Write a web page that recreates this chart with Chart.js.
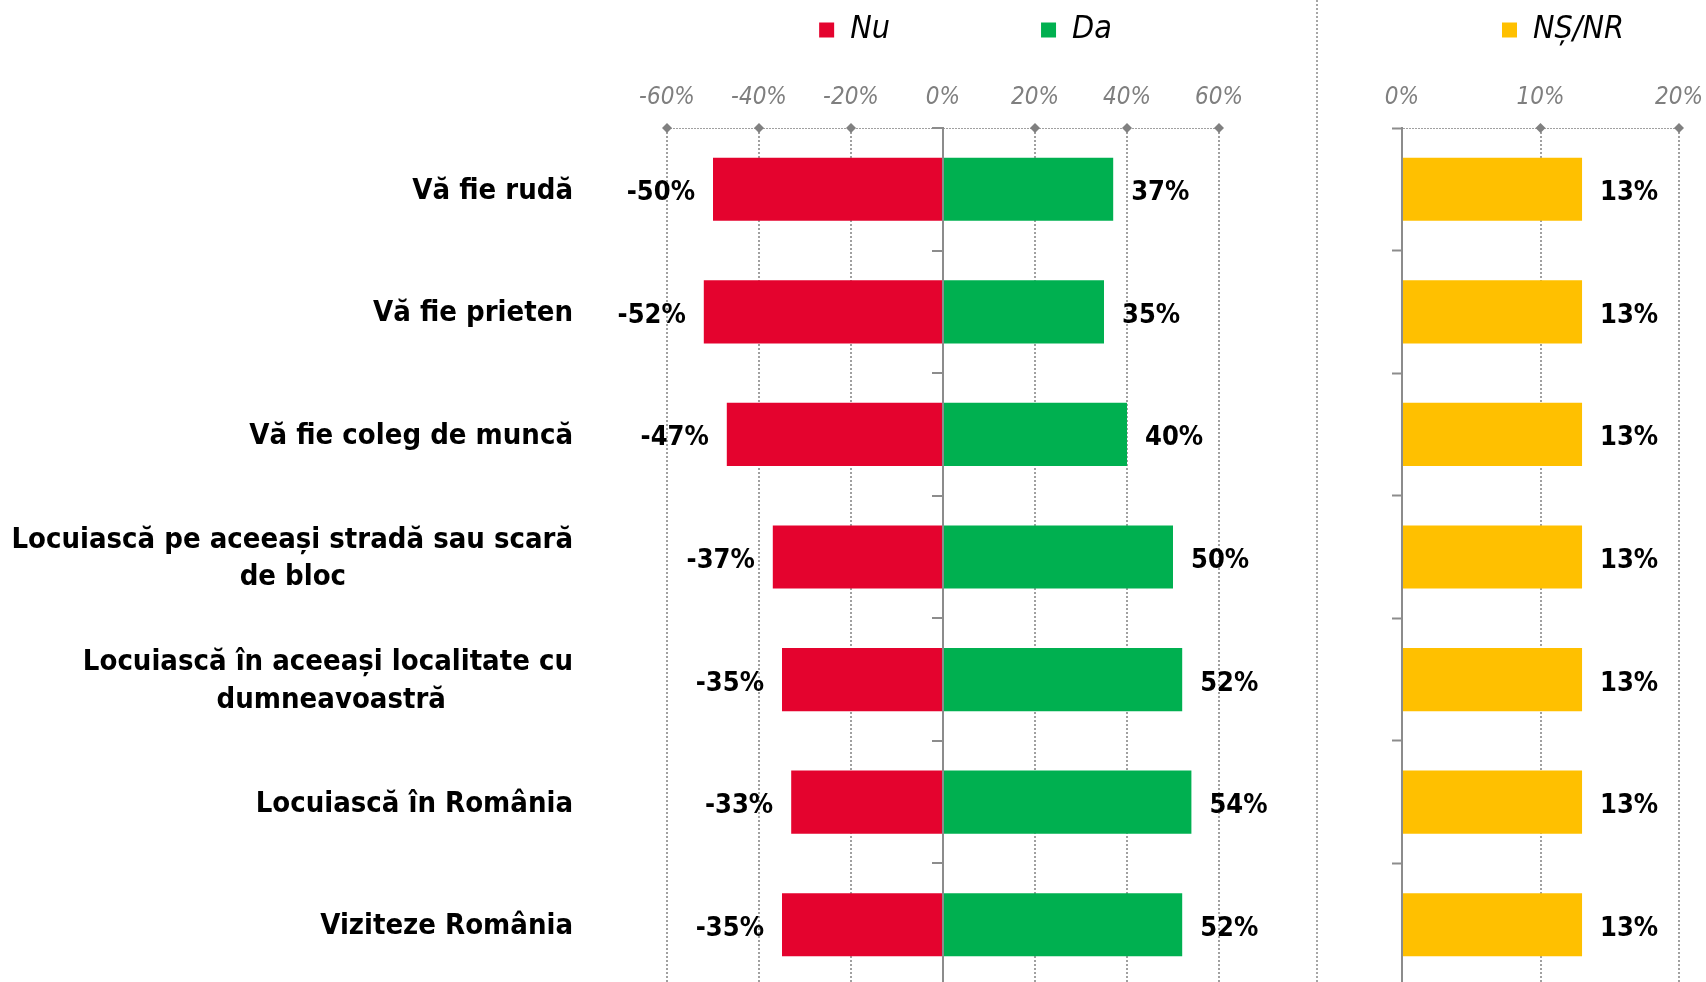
<!DOCTYPE html>
<html>
<head>
<meta charset="utf-8">
<script src="https://cdn.jsdelivr.net/npm/chart.js@4.4.1/dist/chart.umd.min.js"></script>
<style>
  html, body { margin: 0; padding: 0; background: #ffffff; overflow: hidden; width: 1706px; height: 982px; }
  #left { position: absolute; left: 0; top: 0; }
  #right { position: absolute; left: 1318px; top: 0; }
  #sep { position: absolute; left: 1316px; top: 0; width: 0; height: 982px; border-left: 2px dotted #A6A6A6; }
</style>
</head>
<body>
<canvas id="left" width="1318" height="990"></canvas>
<div id="sep"></div>
<canvas id="right" width="388" height="990"></canvas>
<script>
// ---- data ----
const categories = [
  'Vă fie rudă',
  'Vă fie prieten',
  'Vă fie coleg de muncă',
  ['Locuiască pe aceeași stradă sau scară', 'de bloc'],
  ['Locuiască în aceeași localitate cu', 'dumneavoastră'],
  'Locuiască în România',
  'Viziteze România'
];
const nuValues = [-50, -52, -47, -37, -35, -33, -35];
const daValues = [37, 35, 40, 50, 52, 54, 52];
const nsnrValues = [13, 13, 13, 13, 13, 13, 13];
const leftTicks = [-60, -40, -20, 0, 20, 40, 60];
const rightTicks = [0, 10, 20];
const seriesNames = ['Nu', 'Da', 'NȘ/NR'];

// ---- style ----
const FAM = "'DejaVu Sans Condensed', 'DejaVu Sans', sans-serif";
const RED = '#E4032E', GREEN = '#00B050', YELLOW = '#FFC000';
const GRID = '#A0A0A0', AXIS = '#8C8C8C', TICKTXT = '#7F7F7F';
const LABEL_FONT = { family: FAM, size: 29, weight: 'bold', lineHeight: 1.3 };
const VALUE_FONT = 'bold 27px ' + FAM;
const TICK_FONT = { family: FAM, size: 24, style: 'italic' };
const LEGEND_FONT = { family: FAM, size: 32, style: 'italic' };

const measureCtx = document.createElement('canvas').getContext('2d');
function centerLines(lbl) {
  if (!Array.isArray(lbl)) return lbl;
  measureCtx.font = 'bold 29px ' + FAM;
  const w0 = measureCtx.measureText(lbl[0]).width;
  const sp = measureCtx.measureText(' ').width;
  return lbl.map((ln, i) => {
    if (i === 0) return ln;
    const w = measureCtx.measureText(ln).width;
    return ln + ' '.repeat(Math.max(0, Math.round((w0 - w) / 2 / sp)));
  });
}

const diamondPlugin = {
  id: 'diamonds',
  afterDraw(chart) {
    const xs = chart.scales.x, top = chart.chartArea.top, ctx = chart.ctx;
    ctx.save();
    ctx.fillStyle = '#808080';
    xs.ticks.forEach(t => {
      if (t.value === 0) return;
      const px = xs.getPixelForValue(t.value);
      ctx.beginPath();
      ctx.moveTo(px, top - 5); ctx.lineTo(px + 5, top); ctx.lineTo(px, top + 5); ctx.lineTo(px - 5, top);
      ctx.closePath(); ctx.fill();
    });
    ctx.restore();
  }
};

const valueLabelPlugin = {
  id: 'valueLabels',
  afterDatasetsDraw(chart) {
    const ctx = chart.ctx;
    ctx.save();
    ctx.font = VALUE_FONT;
    ctx.fillStyle = '#000000';
    ctx.textBaseline = 'middle';
    chart.data.datasets.forEach((ds, di) => {
      chart.getDatasetMeta(di).data.forEach((bar, i) => {
        const v = ds.data[i];
        if (v < 0) { ctx.textAlign = 'right'; ctx.fillText(v + '%', bar.x - 18, bar.y + 4); }
        else { ctx.textAlign = 'left'; ctx.fillText(v + '%', bar.x + 18, bar.y + 4); }
      });
    });
    ctx.restore();
  }
};

function xScale(min, max, ticksArr) {
  return {
    type: 'linear', position: 'top', min: min, max: max, stacked: true,
    afterBuildTicks: s => { s.ticks = ticksArr.map(v => ({ value: v })); },
    ticks: { callback: v => v + '%', color: TICKTXT, font: TICK_FONT, padding: 16, maxRotation: 0, autoSkip: false },
    grid: { drawTicks: false, lineWidth: 2, color: c => (c.tick && c.tick.value === 0) ? 'rgba(0,0,0,0)' : GRID },
    border: { display: false, dash: [2, 2] },
    afterFit: s => { s.height = 72; s.paddingLeft = 0; s.paddingRight = 0; }
  };
}

// invisible spacer entry placed before the real legend entries to shift them right
function spacerItem() {
  return { text: '', fillStyle: 'rgba(0,0,0,0)', strokeStyle: 'rgba(0,0,0,0)', lineWidth: 0, hidden: false, datasetIndex: -1 };
}

function makeLegendLabels(extraGapFirst) {
  return {
    color: '#000000', font: LEGEND_FONT, boxWidth: 15, boxHeight: 15, padding: 14,
    generateLabels(chart) {
      const items = Chart.defaults.plugins.legend.labels.generateLabels(chart);
      if (extraGapFirst > 0) {
        const c = chart.ctx;
        c.save(); c.font = 'italic 32px ' + FAM;
        const sp = c.measureText(' ').width;
        c.restore();
        items[0].text = items[0].text + ' '.repeat(Math.max(0, Math.round(extraGapFirst / sp)));
      }
      return [spacerItem()].concat(items);
    }
  };
}

new Chart(document.getElementById('left'), {
  type: 'bar',
  data: {
    labels: categories,
    datasets: [
      { label: seriesNames[0], data: nuValues, backgroundColor: RED, borderWidth: 0, yAxisID: 'y', categoryPercentage: 0.515, barPercentage: 1 },
      { label: seriesNames[1], data: daValues, backgroundColor: GREEN, borderWidth: 0, yAxisID: 'y', categoryPercentage: 0.515, barPercentage: 1 }
    ]
  },
  options: {
    indexAxis: 'y', responsive: false, animation: false, devicePixelRatio: 1,
    layout: { padding: { left: 0, right: 99, top: 0, bottom: 4 } },
    plugins: {
      tooltip: { enabled: false },
      legend: { position: 'top', fullSize: false, labels: makeLegendLabels(135) }
    },
    scales: {
      x: xScale(-60, 60, leftTicks),
      y: {
        type: 'category', position: 'left', stacked: true, offset: true,
        grid: { display: true, drawTicks: false, offset: true, lineWidth: 1, color: c => c.index === 0 ? GRID : 'rgba(0,0,0,0)' },
        border: { display: false, dash: [2, 1] },
        ticks: {
          padding: 94, color: '#000000', autoSkip: false, font: LABEL_FONT, labelOffset: 2,
          callback: function (v) { return centerLines(this.getLabelForValue(v)); }
        },
        afterFit: s => { s.width = 667; s.paddingTop = 0; s.paddingBottom = 0; }
      },
      y2: {
        type: 'category', position: { x: 0 }, offset: true,
        grid: { offset: true, drawOnChartArea: false, drawTicks: true, tickLength: 10, color: AXIS, lineWidth: 2 },
        ticks: { display: false },
        border: { display: true, color: AXIS, width: 2 }
      }
    }
  },
  plugins: [diamondPlugin, valueLabelPlugin]
});

new Chart(document.getElementById('right'), {
  type: 'bar',
  data: {
    labels: categories,
    datasets: [
      { label: seriesNames[2], data: nsnrValues, backgroundColor: YELLOW, borderWidth: 0, yAxisID: 'y', categoryPercentage: 0.515, barPercentage: 1 }
    ]
  },
  options: {
    indexAxis: 'y', responsive: false, animation: false, devicePixelRatio: 1,
    layout: { padding: { left: 74, right: 27, top: 0, bottom: 4 } },
    plugins: {
      tooltip: { enabled: false },
      legend: { position: 'top', fullSize: false, labels: makeLegendLabels(0) }
    },
    scales: {
      x: xScale(0, 20, rightTicks),
      y: {
        type: 'category', position: 'left', offset: true,
        ticks: { display: false },
        grid: {
          offset: true, drawOnChartArea: true, drawTicks: true, tickLength: 10,
          tickColor: AXIS, tickWidth: 2, lineWidth: 1,
          color: c => c.index === 0 ? GRID : 'rgba(0,0,0,0)'
        },
        border: { display: true, color: AXIS, width: 2, dash: [2, 1] }
      }
    }
  },
  plugins: [diamondPlugin, valueLabelPlugin]
});
</script>
</body>
</html>
